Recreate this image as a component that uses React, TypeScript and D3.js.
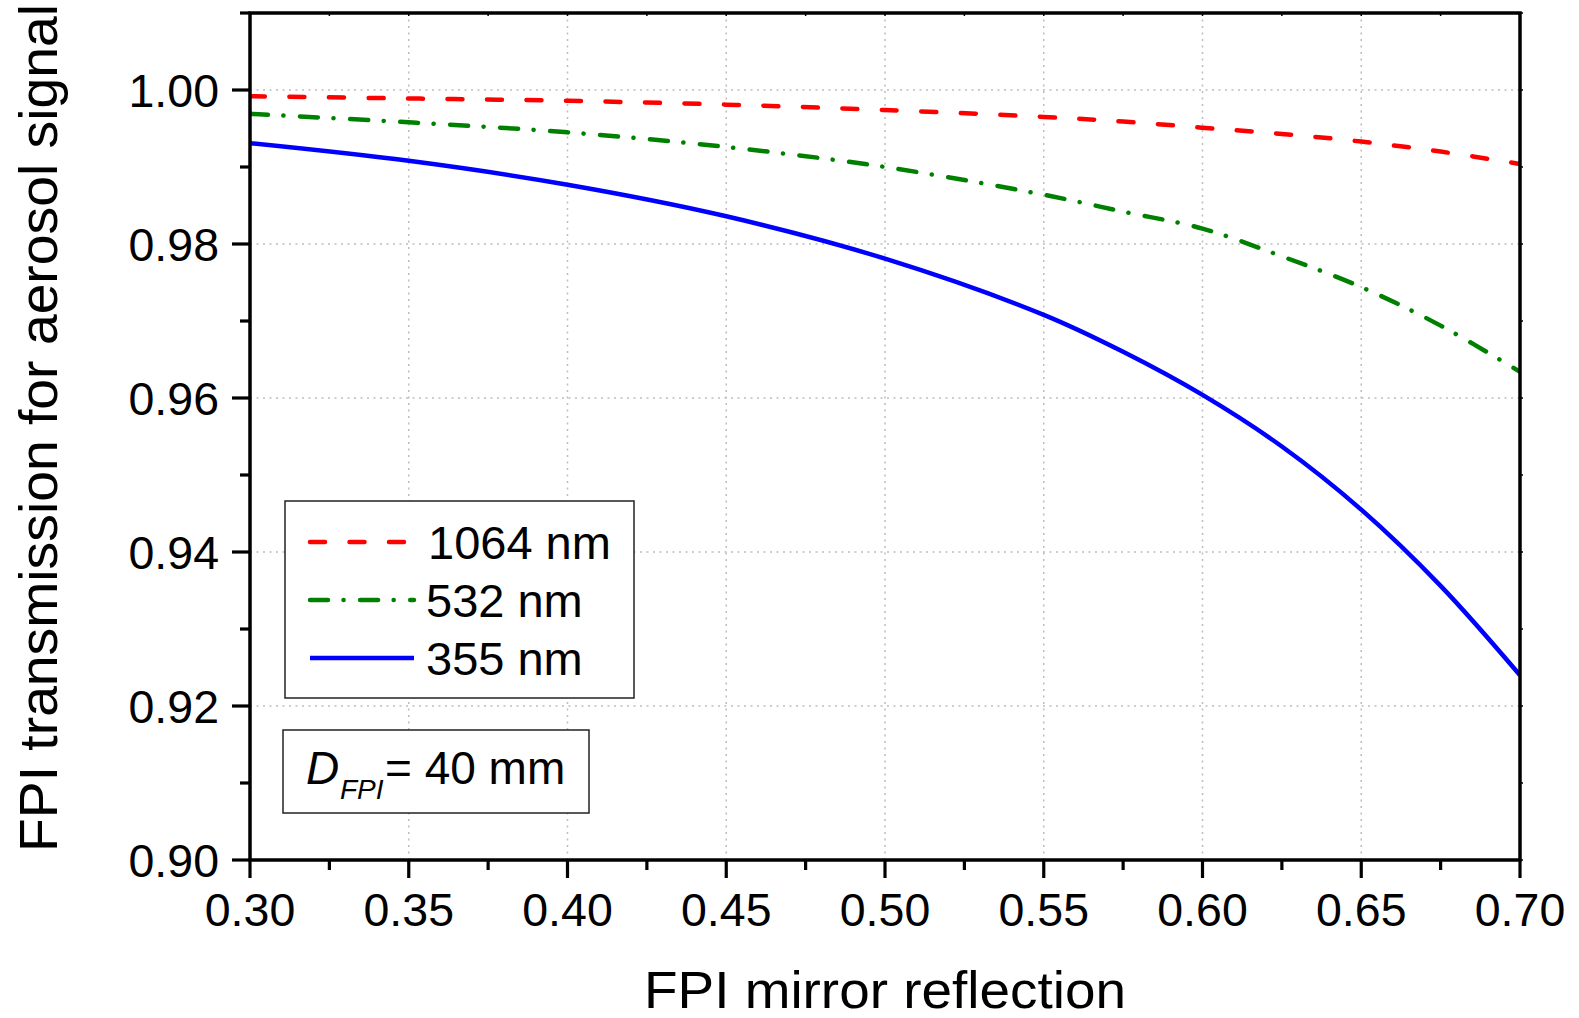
import React from "react";
import * as d3 from "d3";

const reflection = [0.30, 0.35, 0.40, 0.45, 0.50, 0.55, 0.575, 0.60, 0.625, 0.65, 0.675, 0.70];
const t1064 = [0.9992, 0.9989, 0.9986, 0.9981, 0.9974, 0.9965, 0.9959, 0.9951, 0.9943, 0.9933, 0.9920, 0.9904];
const t532 = [0.9969, 0.9958, 0.9945, 0.9926, 0.9900, 0.9864, 0.9842, 0.9820, 0.9784, 0.9744, 0.9694, 0.9634];
const t355 = [0.9931, 0.9908, 0.9877, 0.9836, 0.9781, 0.9708, 0.9660, 0.9604, 0.9537, 0.9455, 0.9356, 0.9240];

const xTickValues = [0.30, 0.35, 0.40, 0.45, 0.50, 0.55, 0.60, 0.65, 0.70];
const xTickLabels = ["0.30", "0.35", "0.40", "0.45", "0.50", "0.55", "0.60", "0.65", "0.70"];
const xMinorValues = [0.325, 0.375, 0.425, 0.475, 0.525, 0.575, 0.625, 0.675];
const yTickValues = [0.90, 0.92, 0.94, 0.96, 0.98, 1.00];
const yTickLabels = ["0.90", "0.92", "0.94", "0.96", "0.98", "1.00"];
const yMinorValues = [0.91, 0.93, 0.95, 0.97, 0.99, 1.01];

const seriesNames = ["1064 nm", "532 nm", "355 nm"];

const FONT = "'Liberation Sans', Arial, Helvetica, sans-serif";

export default function App() {
  const L = 250, R = 1520, T = 13, B = 860;
  const x = d3.scaleLinear().domain([0.30, 0.70]).range([L, R]);
  const y = d3.scaleLinear().domain([0.90, 1.01]).range([B, T]);

  const line = (vals: number[]) =>
    d3.line<number>()
      .x((_, i) => x(reflection[i]))
      .y((v) => y(v))
      .curve(d3.curveCatmullRom.alpha(0.5))(vals) || "";

  const series = [
    { name: seriesNames[0], vals: t1064, color: "#ff0000", dash: "15 24.5" },
    { name: seriesNames[1], vals: t532, color: "#008000", dash: "18 15.5 0.1 16.5" },
    { name: seriesNames[2], vals: t355, color: "#0000ff", dash: "" },
  ];

  const gridColor = "#bdbdbd";

  return (
    <svg
      width={1579}
      height={1018}
      style={{ position: "absolute", left: 0, top: 0, background: "#fff" }}
      fontFamily={FONT}
    >
      <rect x={0} y={0} width={1579} height={1018} fill="#fff" />
      <defs>
        <clipPath id="plot">
          <rect x={L} y={T} width={R - L} height={B - T} />
        </clipPath>
      </defs>
      {/* grid */}
      {xTickValues.slice(1, -1).map((v) => (
        <line key={"gx" + v} x1={x(v)} x2={x(v)} y1={T} y2={B}
          stroke={gridColor} strokeWidth={1.5} strokeDasharray="2 4.5" />
      ))}
      {yTickValues.slice(1).map((v) => (
        <line key={"gy" + v} x1={L} x2={R} y1={y(v)} y2={y(v)}
          stroke={gridColor} strokeWidth={1.5} strokeDasharray="2 4.5" />
      ))}

      {/* series */}
      <g clipPath="url(#plot)">
        {series.map((s) => (
          <path key={s.name} d={line(s.vals)} fill="none" stroke={s.color}
            strokeWidth={4.5} strokeLinecap={s.dash ? "round" : "butt"}
            strokeDasharray={s.dash || undefined} />
        ))}
      </g>

      {/* frame */}
      <rect x={L} y={T} width={R - L} height={B - T} fill="none" stroke="#000" strokeWidth={3.5} />

      {/* bottom ticks */}
      {xTickValues.map((v) => (
        <line key={"xt" + v} x1={x(v)} x2={x(v)} y1={B} y2={B + 18} stroke="#000" strokeWidth={3.2} />
      ))}
      {xMinorValues.map((v) => (
        <line key={"xm" + v} x1={x(v)} x2={x(v)} y1={B} y2={B + 10} stroke="#000" strokeWidth={3.2} />
      ))}
      {/* top ticks (tiny) */}
      {xTickValues.concat(xMinorValues).map((v) => (
        <line key={"xtt" + v} x1={x(v)} x2={x(v)} y1={T} y2={T + 3} stroke="#000" strokeWidth={1.5} />
      ))}
      {/* left ticks */}
      {yTickValues.map((v) => (
        <line key={"yt" + v} x1={L - 18} x2={L} y1={y(v)} y2={y(v)} stroke="#000" strokeWidth={3.2} />
      ))}
      {yMinorValues.map((v) => (
        <line key={"ym" + v} x1={L - 10} x2={L} y1={y(v)} y2={y(v)} stroke="#000" strokeWidth={3.2} />
      ))}
      {/* right ticks (tiny) */}
      {yTickValues.concat(yMinorValues).map((v) => (
        <line key={"ytr" + v} x1={R} x2={R + 3} y1={y(v)} y2={y(v)} stroke="#000" strokeWidth={1.5} />
      ))}

      {/* tick labels */}
      {xTickValues.map((v, i) => (
        <text key={"xl" + v} x={x(v)} y={926} textAnchor="middle" fontSize={46.5} fill="#000">
          {xTickLabels[i]}
        </text>
      ))}
      {yTickValues.map((v, i) => (
        <text key={"yl" + v} x={219} y={y(v) + 16.5} textAnchor="end" fontSize={46.5} fill="#000">
          {yTickLabels[i]}
        </text>
      ))}

      {/* axis titles */}
      <text x={885} y={1008} textAnchor="middle" fontSize={52} textLength={482}
        lengthAdjust="spacingAndGlyphs" fill="#000">
        FPI mirror reflection
      </text>
      <text transform="translate(57,428) rotate(-90)" textAnchor="middle" fontSize={54}
        textLength={848} lengthAdjust="spacingAndGlyphs" fill="#000">
        FPI transmission for aerosol signal
      </text>

      {/* legend */}
      <rect x={285} y={501} width={349} height={197} fill="#fff" stroke="#222" strokeWidth={1.5} />
      {series.map((s, i) => {
        const ly = 542 + i * 58;
        return (
          <g key={"lg" + s.name}>
            <line x1={310} x2={i === 0 ? 405 : 414} y1={ly} y2={ly} stroke={s.color}
              strokeWidth={4.5} strokeLinecap={s.dash ? "round" : "butt"}
              strokeDasharray={s.dash || undefined} />
            <text x={i === 0 ? 428 : 426} y={ly + 17} fontSize={47} fill="#000">{s.name}</text>
          </g>
        );
      })}

      {/* annotation */}
      <rect x={283} y={730} width={306} height={83} fill="#fff" stroke="#222" strokeWidth={1.5} />
      <text x={306} y={784} fontSize={46} fontStyle="italic" fill="#000">D</text>
      <text x={340} y={799} fontSize={28} fontStyle="italic" fill="#000">FPI</text>
      <text x={385} y={784} fontSize={46} fill="#000">= 40 mm</text>
    </svg>
  );
}
